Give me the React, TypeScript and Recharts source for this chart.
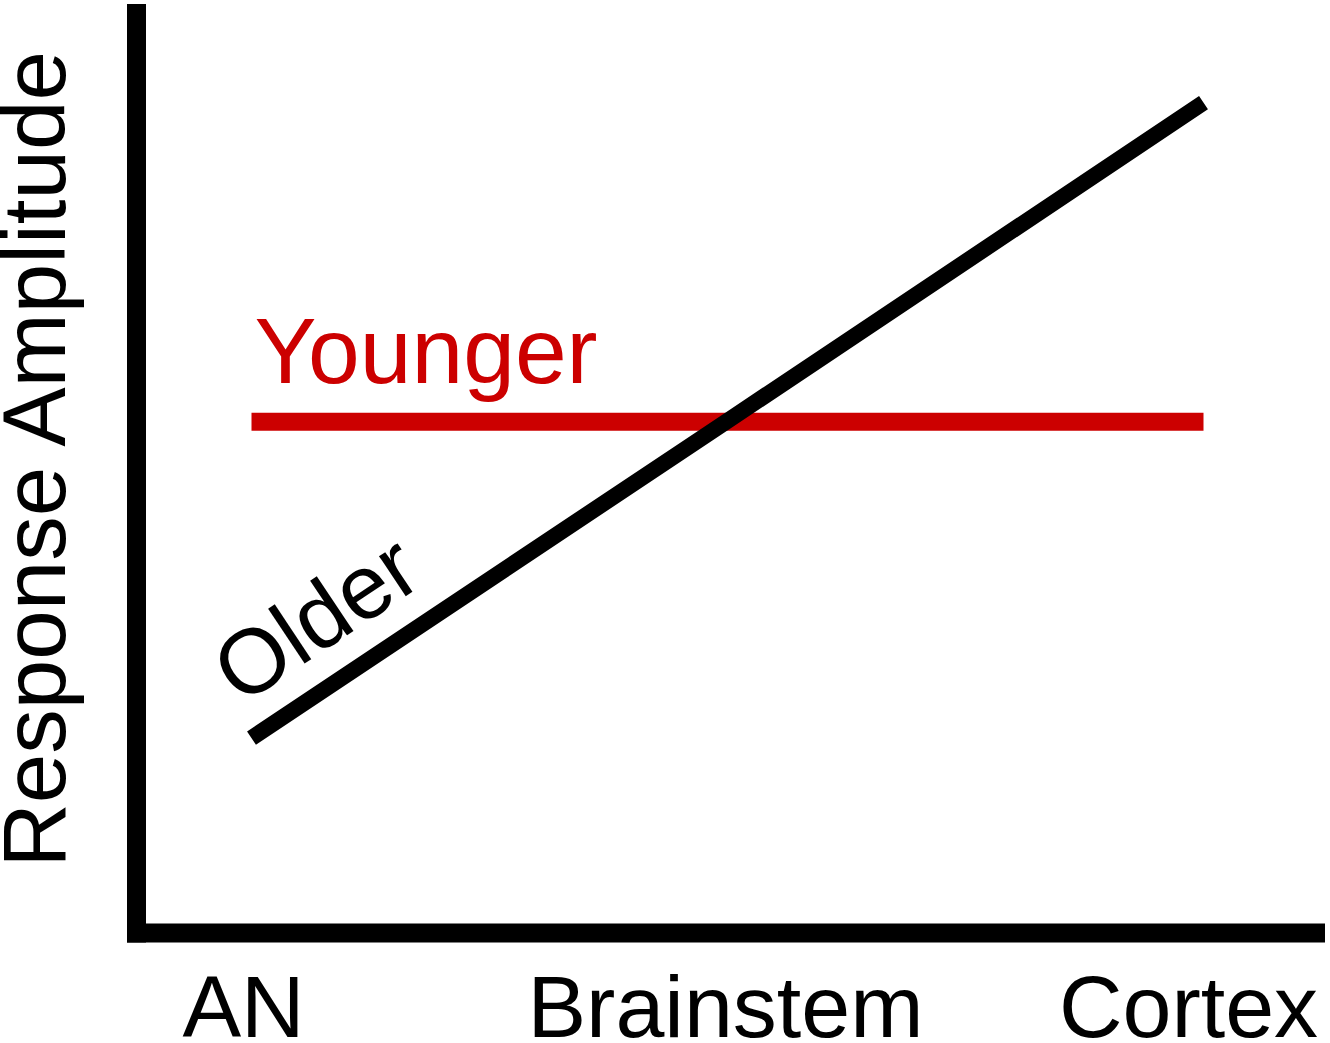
import React from 'react';
import { LineChart, Line, XAxis, YAxis } from 'recharts';

const categories = ['AN', 'Brainstem', 'Cortex'];
const youngerValues = [55.6, 55.6, 55.6];
const olderValues = [21.2, 55.7, 90.3];
const yDomain = [0, 100];

const data = categories.map((c, i) => ({ stage: c, younger: youngerValues[i], older: olderValues[i] }));

const FONT = '"Liberation Sans", Arial, Helvetica, sans-serif';
const tickShift: Record<string, number> = { AN: -8, Brainstem: -2, Cortex: -15 };

const XTick = (props: any) => {
  const { x, y, payload } = props;
  return (
    <text x={x + (tickShift[payload.value] || 0)} y={y + 104} textAnchor="middle" fontFamily={FONT} fontSize={88} fill="#000">
      {payload.value}
    </text>
  );
};

const YoungerLabel = (props: any) => {
  const { x, y, index } = props;
  if (index !== 0) return null;
  return (
    <text x={x + 3} y={y - 39} fontFamily={FONT} fontSize={93} fill="#cc0000">
      Younger
    </text>
  );
};

const OlderLabel = (props: any) => {
  const { x, y, index } = props;
  if (index !== 0) return null;
  const cx = x + 64;
  const cy = y - 120;
  return (
    <text x={cx} y={cy} dy="0.35em" textAnchor="middle" fontFamily={FONT} fontSize={91} fill="#000" transform={`rotate(-33.6 ${cx} ${cy})`}>
      Older
    </text>
  );
};

const YLabel = (props: any) => {
  const { viewBox } = props;
  const cy = viewBox.y + viewBox.height / 2 - 14;
  const bx = 65;
  return (
    <text x={bx} y={cy} textAnchor="middle" fontFamily={FONT} fontSize={89} fill="#000" transform={`rotate(-90 ${bx} ${cy})`}>
      Response Amplitude
    </text>
  );
};

export default function App() {
  return (
    <div style={{ position: 'absolute', left: 0, top: 0, background: '#fff' }}>
      <LineChart width={1330} height={1043} data={data} margin={{ top: 13.5, right: 14.5, bottom: 0, left: 0 }}>
        <XAxis
          dataKey="stage"
          height={110}
          padding={{ left: 115, right: 112 }}
          tickLine={false}
          tickSize={0}
          tickMargin={0}
          axisLine={{ stroke: '#000', strokeWidth: 19, strokeLinecap: 'square' }}
          tick={<XTick />}
          interval={0}
        />
        <YAxis
          width={136.5}
          domain={yDomain}
          type="number"
          tick={false}
          tickLine={false}
          axisLine={{ stroke: '#000', strokeWidth: 19, strokeLinecap: 'square' }}
          label={<YLabel />}
        />
        <Line
          dataKey="younger"
          stroke="#cc0000"
          strokeWidth={18}
          dot={false}
          activeDot={false}
          isAnimationActive={false}
          strokeLinecap="butt"
          label={<YoungerLabel />}
        />
        <Line
          dataKey="older"
          stroke="#000"
          strokeWidth={16}
          dot={false}
          activeDot={false}
          isAnimationActive={false}
          strokeLinecap="butt"
          label={<OlderLabel />}
        />
      </LineChart>
    </div>
  );
}
